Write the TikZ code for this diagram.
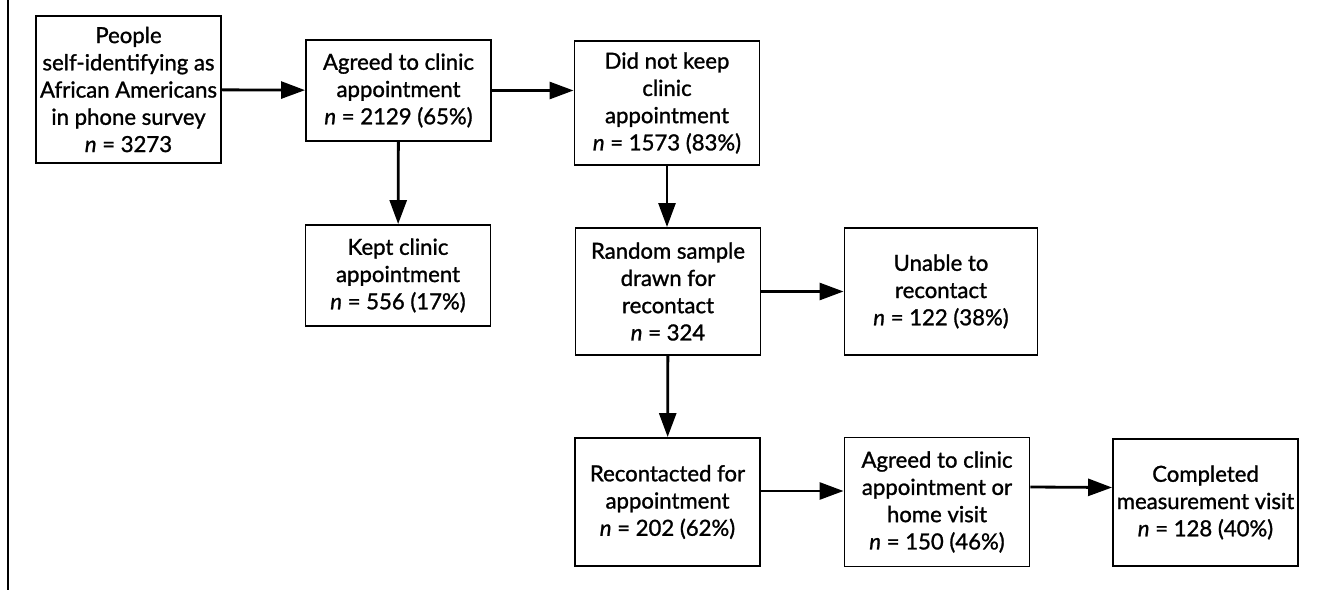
\documentclass[tikz,border=0pt]{standalone}
\usepackage{fontspec}
\setmainfont{Lato}[UprightFeatures={FakeBold=1.2}, ItalicFeatures={FakeBold=1.2}]
\usetikzlibrary{arrows.meta}

\begin{document}
\begin{tikzpicture}[x=0.2mm, y=-0.2mm, line width=1.6pt,
    >={Triangle[length=4.8mm, width=3.4mm]},
    stage/.style={draw, line width=1.1pt, minimum width=37mm, inner sep=0pt,
      align=center, font=\fontsize{12.6}{15.5}\selectfont}]
  \useasboundingbox (0,0) rectangle (1327,590);
  % margin rule
  \draw[line width=1.2pt] (8,0) -- (8,590);
  % first row
  \node[stage, minimum height=29.4mm] (people) at (128.5,89.5)
    {People\\self-identifying as\\African Americans\\in phone survey\\\textit{n} = 3273};
  \node[stage, minimum height=20.2mm] (agreed) at (398.5,90.5)
    {Agreed to clinic\\appointment\\\textit{n} = 2129 (65\%)};
  \node[stage, minimum height=24.8mm] (nokeep) at (667,103)
    {Did not keep\\clinic\\appointment\\\textit{n} = 1573 (83\%)};
  % second row
  \node[stage, minimum height=20.2mm] (kept) at (398,275.5)
    {Kept clinic\\appointment\\\textit{n} = 556 (17\%)};
  \node[stage, minimum height=25.4mm] (random) at (668,291.5)
    {Random sample\\drawn for\\recontact\\\textit{n} = 324};
  \node[stage, minimum width=38.6mm, minimum height=25.4mm] (unable) at (941,291.5)
    {Unable to\\recontact\\\textit{n} = 122 (38\%)};
  % third row
  \node[stage, minimum height=25.6mm] (recon) at (667.5,502)
    {Recontacted for\\appointment\\\textit{n} = 202 (62\%)};
  \node[stage, minimum height=25.8mm] (agreedtwo) at (937,502)
    {Agreed to clinic\\appointment or\\home visit\\\textit{n} = 150 (46\%)};
  \node[stage, minimum height=25.4mm] (done) at (1205.5,502.5)
    {Completed\\measurement visit\\\textit{n} = 128 (40\%)};
  % arrows
  \draw[->] (people) -- (agreed);
  \draw[->] (agreed.east) -- (agreed.east -| nokeep.west);
  \draw[->] (agreed) -- (kept);
  \draw[->] (nokeep.south) -- (nokeep.south |- random.north);
  \draw[->] (random) -- (unable);
  \draw[->] (random) -- (recon);
  \draw[->] ([yshift=2.2mm]recon.east) -- ([yshift=2.2mm]agreedtwo.west);
  \draw[->] ([yshift=3mm]agreedtwo.east) -- ([yshift=3mm]done.west);
\end{tikzpicture}
\end{document}
